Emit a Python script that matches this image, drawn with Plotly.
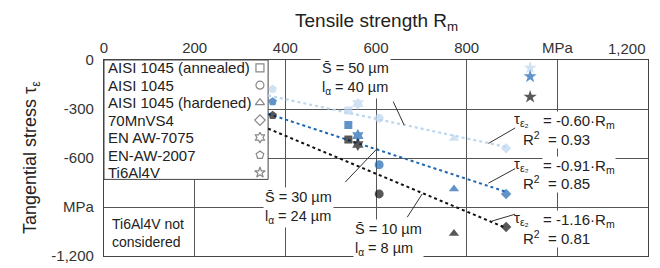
import plotly.graph_objects as go

# ---------------- data ----------------
materials = ["AISI 1045 (annealed)", "AISI 1045", "AISI 1045 (hardened)", "70MnVS4",
             "EN AW-7075", "EN-AW-2007", "Ti6Al4V"]
symbols = ["square", "circle", "triangle-up", "diamond", "hexagram", "pentagon", "star"]
rm = [539, 607, 772, 887, 560, 372, 940]            # tensile strength Rm, MPa
tau_s50 = [-309, -356, -481, -540, -267, -178, -48]  # S = 50 um
tau_s30 = [-398, -641, -790, -820, -463, -255, -101] # S = 30 um
tau_s10 = [-487, -820, -1063, -1022, -517, -339, -226]  # S = 10 um
slopes = [-0.60, -0.91, -1.16]
r2 = [0.93, 0.85, 0.81]
fit_rm = [362, 887]
x_ticks = [0, 200, 400, 600, 800, 1000, 1200]
x_ticktext = ["0", "200", "400", "600", "800", "MPa", ""]
y_ticks = [0, -300, -600, -900, -1200]
y_ticktext = ["0", "-300", "-600", "MPa", "-1,200"]

# ---------------- style ----------------
FONT = "Liberation Sans, Arial, sans-serif"
c_light, c_blue, c_black = "#bcd6ee", "#1d66b0", "#111111"
sizes = [8, 9, 9, 8, 10, 9, 10]

fig = go.Figure()

series = [(tau_s50, c_light, slopes[0]), (tau_s30, c_blue, slopes[1]), (tau_s10, c_black, slopes[2])]
for tau, col, k in series:
    fig.add_trace(go.Scatter(x=fit_rm, y=[k * v for v in fit_rm], mode="lines",
                             line=dict(color=col, width=2.2 if col == c_light else 2, dash="dot"),
                             showlegend=False, hoverinfo="skip"))
for tau, col, k in series:
    fig.add_trace(go.Scatter(x=rm, y=tau, mode="markers",
                             marker=dict(symbol=symbols, size=sizes, color=col, line=dict(width=0)),
                             showlegend=False))

# legend box (white, covers grid lines)
fig.add_shape(type="rect", xref="x", yref="y", x0=0, x1=362, y0=0, y1=-731,
              fillcolor="white", line=dict(color="#444", width=1), layer="between")

leg_y = [-48, -154, -261, -368, -475, -582, -689]
fig.add_trace(go.Scatter(x=[344] * 7, y=leg_y, mode="markers",
                         marker=dict(symbol=[s + "-open" for s in symbols], size=8,
                                     color="#888", line=dict(width=1.2, color="#888")),
                         showlegend=False, hoverinfo="skip"))
for name, yy in zip(materials, leg_y):
    fig.add_annotation(x=4, y=yy, xref="x", yref="y", text=name, showarrow=False,
                       xanchor="left", yanchor="middle",
                       font=dict(family=FONT, size=15, color="#222"))

# Ti6Al4V note
fig.add_annotation(x=13, y=-1062, xref="x", yref="y", text="Ti6Al4V not<br>considered",
                   showarrow=False, xanchor="left", yanchor="middle", align="left",
                   font=dict(family=FONT, size=14, color="#222"))

# groove labels
groove = [
    (477, -113, "S\u0304 = 50 µm<br>l<sub>α</sub> = 40 µm"),
    (351, -905, "S\u0304 = 30 µm<br>l<sub>α</sub> = 24 µm"),
    (550, -1100, "S\u0304 = 10 µm<br>l<sub>α</sub> = 8 µm"),
]
for xx, yy, txt in groove:
    fig.add_annotation(x=xx, y=yy, xref="x", yref="y", text=txt, showarrow=False,
                       xanchor="left", yanchor="middle", align="left",
                       bgcolor="white", borderpad=1,
                       font=dict(family=FONT, size=14.5, color="#222"))

# equations
eq_rows = [(-378, -478), (-650, -752), (-982, -1084)]
for (ye, yr), k, r in zip(eq_rows, slopes, r2):
    fig.add_annotation(x=900, y=ye + 12, xref="x", yref="y", text="τ<sub>ε₂</sub>",
                       showarrow=False, xanchor="left", yanchor="middle",
                       font=dict(family=FONT, size=15, color="#222"))
    fig.add_annotation(x=967, y=ye, xref="x", yref="y",
                       text=f"= {k:.2f}·R<sub>m</sub>", showarrow=False,
                       xanchor="left", yanchor="middle", bgcolor="white", borderpad=0,
                       font=dict(family=FONT, size=15, color="#222"))
    fig.add_annotation(x=921, y=yr, xref="x", yref="y",
                       text=f"R<sup>2</sup>  = {r:.2f}", showarrow=False,
                       xanchor="left", yanchor="middle", bgcolor="white", borderpad=0,
                       font=dict(family=FONT, size=15, color="#222"))

# leader lines
leaders = [((638, -255), (662, -398)), ((532, -748), (603, -541)), ((669, -962), (702, -820)),
           ((848, -511), (907, -416)), ((848, -754), (907, -665)), ((856, -986), (907, -944))]
for (xa, ya), (xb, yb) in leaders:
    fig.add_shape(type="line", xref="x", yref="y", x0=xa, y0=ya, x1=xb, y1=yb,
                  line=dict(color="#333", width=1), layer="above")

# titles and last tick label
fig.add_annotation(x=0.5, y=1, xref="paper", yref="paper", yshift=38,
                   text="Tensile strength R<sub>m</sub>", showarrow=False,
                   xanchor="center", yanchor="middle",
                   font=dict(family=FONT, size=19, color="#222"))
fig.add_annotation(x=0, y=0.5, xref="paper", yref="paper", xshift=-73,
                   text="Tangential stress τ<sub>ε</sub>", showarrow=False, textangle=-90,
                   xanchor="center", yanchor="middle",
                   font=dict(family=FONT, size=18, color="#222"))
fig.add_annotation(x=1200, y=1, xref="x", yref="paper", yshift=12, text="1,200",
                   showarrow=False, xanchor="right", yanchor="middle",
                   font=dict(family=FONT, size=15, color="#333"))

fig.update_layout(
    width=660, height=268, margin=dict(l=96, r=20, t=52, b=14),
    paper_bgcolor="white", plot_bgcolor="white",
    font=dict(family=FONT, size=15, color="#333"),
    xaxis=dict(range=[0, 1200], side="top", tickvals=x_ticks, ticktext=x_ticktext,
               showgrid=True, gridcolor="#555", gridwidth=1, zeroline=False,
               showline=True, mirror=True, linecolor="#444", linewidth=1.2, ticks=""),
    yaxis=dict(range=[-1200, 0], tickvals=y_ticks, ticktext=y_ticktext,
               showgrid=True, gridcolor="#555", gridwidth=1, zeroline=False,
               showline=True, mirror=True, linecolor="#444", linewidth=1.2, ticks="",
               ticklabelstandoff=6),
)

fig.write_html("out.html")
